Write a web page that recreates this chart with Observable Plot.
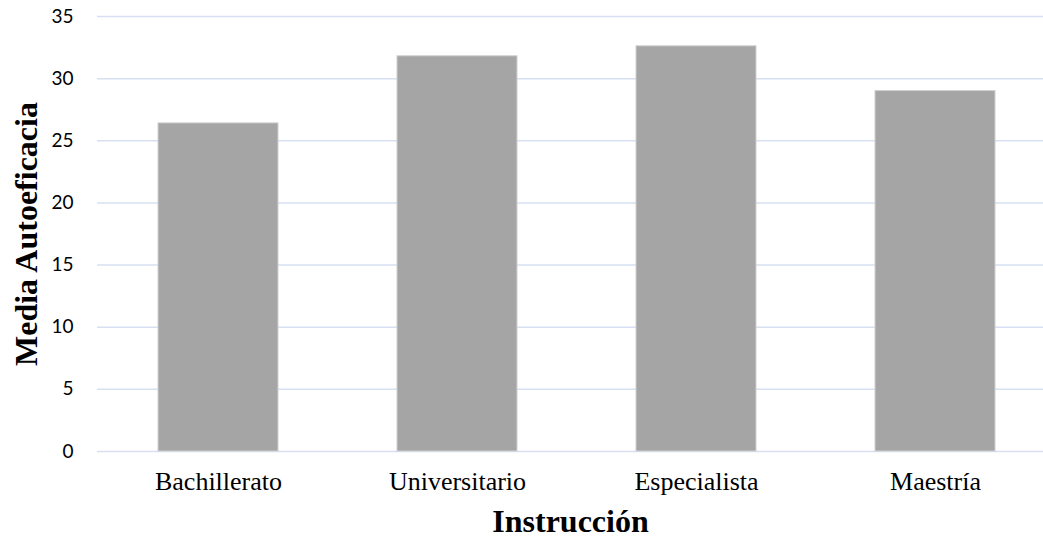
<!DOCTYPE html>
<html>
<head>
<meta charset="utf-8">
<script src="https://cdn.jsdelivr.net/npm/d3@7"></script>
<script src="https://cdn.jsdelivr.net/npm/@observablehq/plot@0.6"></script>
<style>
  html, body { margin: 0; padding: 0; background: #fff; }
  #chart svg { display: block; }
</style>
</head>
<body>
<div id="chart"></div>
<script>
// Mean self-efficacy score by level of schooling
const niveles = ["Bachillerato", "Universitario", "Especialista", "Maestría"];
const medias = [26.4, 31.8, 32.6, 29.0];
const yTicks = [0, 5, 10, 15, 20, 25, 30, 35];
const tituloX = "Instrucción";
const tituloY = "Media Autoeficacia";

const datos = niveles.map((n, i) => ({nivel: n, media: medias[i]}));

const W = 1043, H = 539;
const mLeft = 97, mTop = 16, mBottom = 88;

const chart = Plot.plot({
  width: W,
  height: H,
  marginLeft: mLeft,
  marginRight: 0,
  marginTop: mTop,
  marginBottom: mBottom,
  style: {background: "#fff", overflow: "visible"},
  x: {domain: niveles, range: [mLeft, 1055], paddingInner: 0.5, paddingOuter: 0.25, label: null},
  y: {domain: [0, 35], ticks: yTicks, label: null},
  marks: [
    Plot.ruleY(yTicks, {stroke: "#d6e0f2", strokeWidth: 1.5}),
    Plot.barY(datos, {x: "nivel", y: "media", fill: "#a5a5a5", stroke: "#cfcfcf", strokeWidth: 1}),
    Plot.axisY({
      ticks: yTicks, tickSize: 0, tickPadding: 24, label: null,
      fontFamily: "Lato", fontSize: 19, fill: "#000"
    }),
    Plot.axisX({
      tickSize: 0, tickPadding: 20, label: null,
      fontFamily: "Liberation Serif", fontSize: 26, fill: "#000"
    }),
    Plot.text([tituloX], {
      frameAnchor: "bottom", lineAnchor: "bottom", dy: 80,
      fontFamily: "Liberation Serif", fontWeight: "bold", fontSize: 32, fill: "#000"
    }),
    Plot.text([tituloY], {
      frameAnchor: "left", textAnchor: "middle", rotate: -90, lineAnchor: "bottom", dx: -61,
      fontFamily: "Liberation Serif", fontWeight: "bold", fontSize: 32, fill: "#000"
    })
  ]
});

document.getElementById("chart").append(chart);
</script>
</body>
</html>
